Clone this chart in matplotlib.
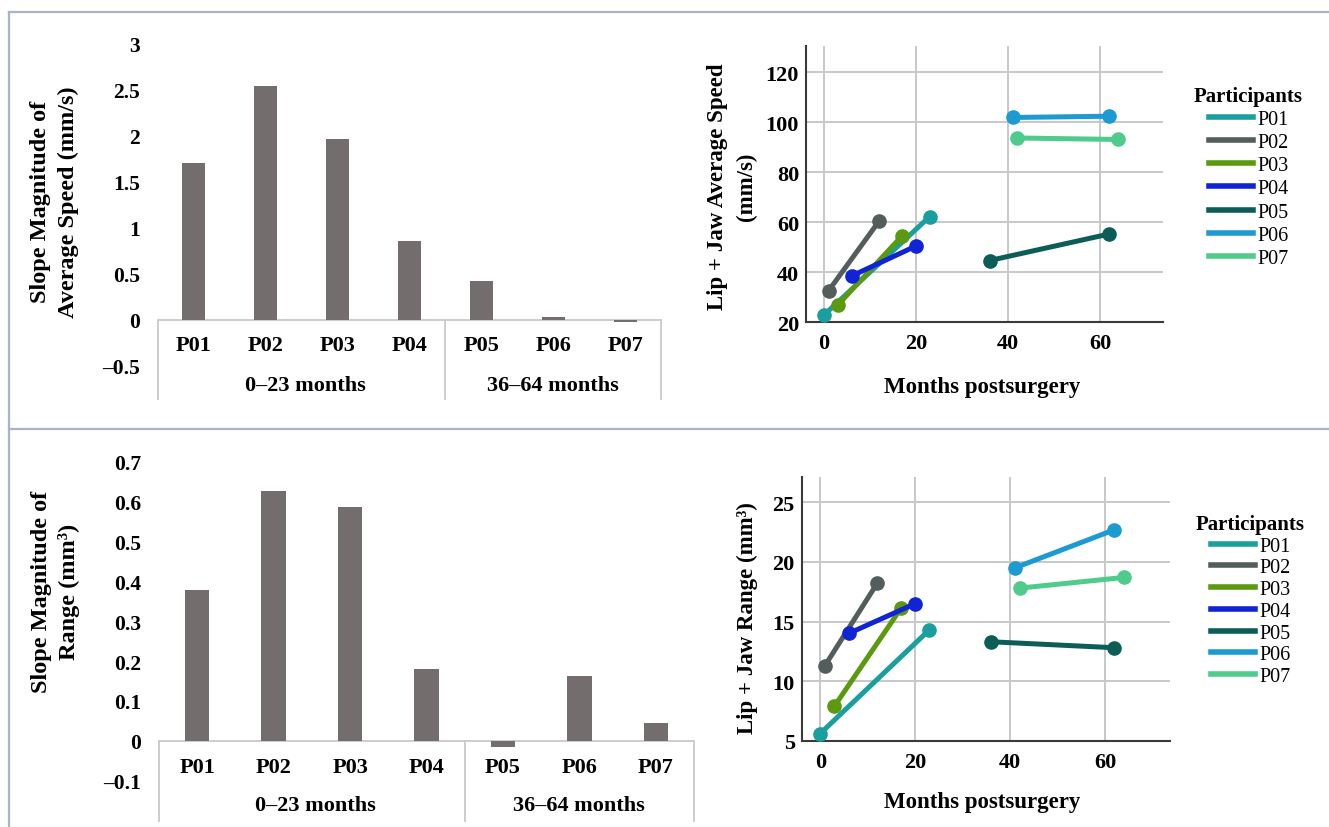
import matplotlib
matplotlib.use("Agg")
import matplotlib.pyplot as plt
from matplotlib.lines import Line2D
import matplotlib.transforms as mtransforms

plt.rcParams['font.family'] = ['Liberation Serif', 'DejaVu Serif']

W, H = 1329, 828

# ---------------- data ----------------
participants = ["P01", "P02", "P03", "P04", "P05", "P06", "P07"]
groups = ["0–23 months", "36–64 months"]

slope_speed = [1.71, 2.54, 1.97, 0.86, 0.42, 0.03, -0.02]
slope_range = [0.379, 0.628, 0.586, 0.180, -0.017, 0.162, 0.044]

speed_yticks = [-0.5, 0, 0.5, 1, 1.5, 2, 2.5, 3]
speed_yticklabels = ["–0.5", "0", "0.5", "1", "1.5", "2", "2.5", "3"]
range_yticks = [-0.1, 0, 0.1, 0.2, 0.3, 0.4, 0.5, 0.6, 0.7]
range_yticklabels = ["–0.1", "0", "0.1", "0.2", "0.3", "0.4", "0.5", "0.6", "0.7"]

# months postsurgery (first, second visit) per participant
months = {
    "P01": [0, 23],
    "P02": [1, 12],
    "P03": [3, 17],
    "P04": [6, 20],
    "P05": [36, 62],
    "P06": [41, 62],
    "P07": [42, 64],
}
speed_vals = {
    "P01": [22.9, 62.3],
    "P02": [32.6, 60.5],
    "P03": [26.9, 54.6],
    "P04": [38.5, 50.5],
    "P05": [44.7, 55.3],
    "P06": [101.9, 102.4],
    "P07": [93.7, 93.1],
}
range_vals = {
    "P01": [5.6, 14.3],
    "P02": [11.3, 18.2],
    "P03": [7.9, 16.1],
    "P04": [14.0, 16.5],
    "P05": [13.3, 12.8],
    "P06": [19.5, 22.7],
    "P07": [17.8, 18.7],
}
colors = {
    "P01": "#1b9e9e",
    "P02": "#535d5b",
    "P03": "#5b9a0e",
    "P04": "#1024d6",
    "P05": "#0c5d58",
    "P06": "#1c9ad2",
    "P07": "#4fcb8c",
}
line_xticks = [0, 20, 40, 60]
speed_ticks = [20, 40, 60, 80, 100, 120]
range_ticks = [5, 10, 15, 20, 25]

BAR_COLOR = "#736d6d"
CAT_LINE = "#c9c9c9"
GRID = "#c8c8c8"
FRAME = "#a9b3cb"


def rect(x0, y0, x1, y1):
    return [x0 / W, 1 - y1 / H, (x1 - x0) / W, (y1 - y0) / H]


def ylabel_lines(lines, xs, yc, size):
    for text, x in zip(lines, xs):
        fig.text(x / W, 1 - yc / H, text, rotation=90, ha="center", va="center",
                 fontsize=size, fontweight="bold")


fig = plt.figure(figsize=(W / 100, H / 100), dpi=100)
fig.patch.set_facecolor("white")

# frame lines
for (xs, ys) in [([9, W], [13, 13]), ([9, 9], [13, H]), ([9, W], [430, 430])]:
    fig.add_artist(Line2D([x / W for x in xs], [1 - y / H for y in ys],
                          color=FRAME, lw=1.6, transform=fig.transFigure))


def bar_panel(box, ylim, values, yticks, yticklabels, plab_y, glab_y, ylab_lines, ylab_xs, ylab_y):
    ax = fig.add_axes(rect(*box))
    xs = list(range(len(participants)))
    ax.bar(xs, values, width=0.32, color=BAR_COLOR, zorder=3)
    ax.set_xlim(-0.5, len(participants) - 0.5)
    ax.set_ylim(*ylim)
    for s in ax.spines.values():
        s.set_visible(False)
    ax.set_xticks([])
    ax.set_yticks(yticks)
    ax.set_yticklabels(yticklabels, fontsize=15.5, fontweight="bold")
    ax.tick_params(axis="y", length=0, pad=13)
    # category axis
    ax.plot([-0.5, len(participants) - 0.5], [0, 0], color=CAT_LINE, lw=1.3, zorder=2)
    for xv in [-0.5, 3.5, len(participants) - 0.5]:
        ax.plot([xv, xv], [0, ylim[0]], color=CAT_LINE, lw=1.3, zorder=2, clip_on=False)
    trans = mtransforms.blended_transform_factory(ax.transData, fig.transFigure)
    for i, p in enumerate(participants):
        ax.text(i, 1 - plab_y / H, p, transform=trans, ha="center", va="center",
                fontsize=16, fontweight="bold")
    ax.text(1.55, 1 - glab_y / H, groups[0], transform=trans, ha="center", va="center",
            fontsize=16, fontweight="bold")
    ax.text(5.0, 1 - glab_y / H, groups[1], transform=trans, ha="center", va="center",
            fontsize=16, fontweight="bold")
    ylabel_lines(ylab_lines, ylab_xs, ylab_y, 17.5)
    return ax


bar_panel((158, 41, 661, 400), (-0.859, 3.043), slope_speed, speed_yticks, speed_yticklabels,
          346, 386, ["Slope Magnitude of", "Average Speed (mm/s)"], [41, 68], 202)
bar_panel((159, 455, 694, 822), (-0.2018, 0.72), slope_range, range_yticks, range_yticklabels,
          768, 806, ["Slope Magnitude of", "Range (mm³)"], [42, 69], 592)


def line_panel(box, xlim, ylim, vals, yticks, ylab_lines, ylab_xs, ylab_y, xlab_y, leg_xy,
               leg_spacing):
    ax = fig.add_axes(rect(*box))
    for p in participants:
        ax.plot(months[p], vals[p], color=colors[p], lw=3.6, marker="o", markersize=9.5,
                solid_capstyle="round", zorder=3, clip_on=False)
    ax.set_xlim(*xlim)
    ax.set_ylim(*ylim)
    ax.set_xticks(line_xticks)
    ax.set_yticks(yticks)
    ax.grid(True, color=GRID, lw=1.4, zorder=0)
    ax.set_axisbelow(True)
    for s in ["top", "right"]:
        ax.spines[s].set_visible(False)
    for s in ["left", "bottom"]:
        ax.spines[s].set_color("#3a3a3a")
        ax.spines[s].set_linewidth(1.5)
    ax.tick_params(length=0, labelsize=16)
    ax.tick_params(axis="y", pad=5)
    ax.tick_params(axis="x", pad=8)
    for lbl in ax.get_xticklabels() + ax.get_yticklabels():
        lbl.set_fontweight("bold")
    ylabel_lines(ylab_lines, ylab_xs, ylab_y, 16.5)
    fig.text(982 / W, 1 - xlab_y / H, "Months postsurgery", ha="center", va="center",
             fontsize=16.5, fontweight="bold")
    handles = [Line2D([0], [0], color=colors[p], lw=4) for p in participants]
    leg = fig.legend(handles, participants, loc="upper left",
                     bbox_to_anchor=(leg_xy[0] / W, 1 - leg_xy[1] / H),
                     frameon=False, fontsize=14.5, title="Participants",
                     title_fontproperties={"weight": "bold", "size": 15},
                     handlelength=2.2, handletextpad=0.2, labelspacing=leg_spacing,
                     borderpad=0, borderaxespad=0)
    leg._legend_box.align = "center"
    return ax


line_panel((806, 46.7, 1163, 323.3), (-3.9, 73.7), (20, 130.6), speed_vals, speed_ticks,
           ["Lip + Jaw Average Speed", "(mm/s)"], [718, 746], 187, 388, (1194, 87), 0.2)
line_panel((801.7, 478.3, 1170, 741.7), (-3.9, 73.7), (5, 27.1), range_vals, range_ticks,
           ["Lip + Jaw Range (mm³)"], [747], 618, 803, (1196, 515), 0.13)

fig.savefig("out.png", dpi=100, facecolor="white")
